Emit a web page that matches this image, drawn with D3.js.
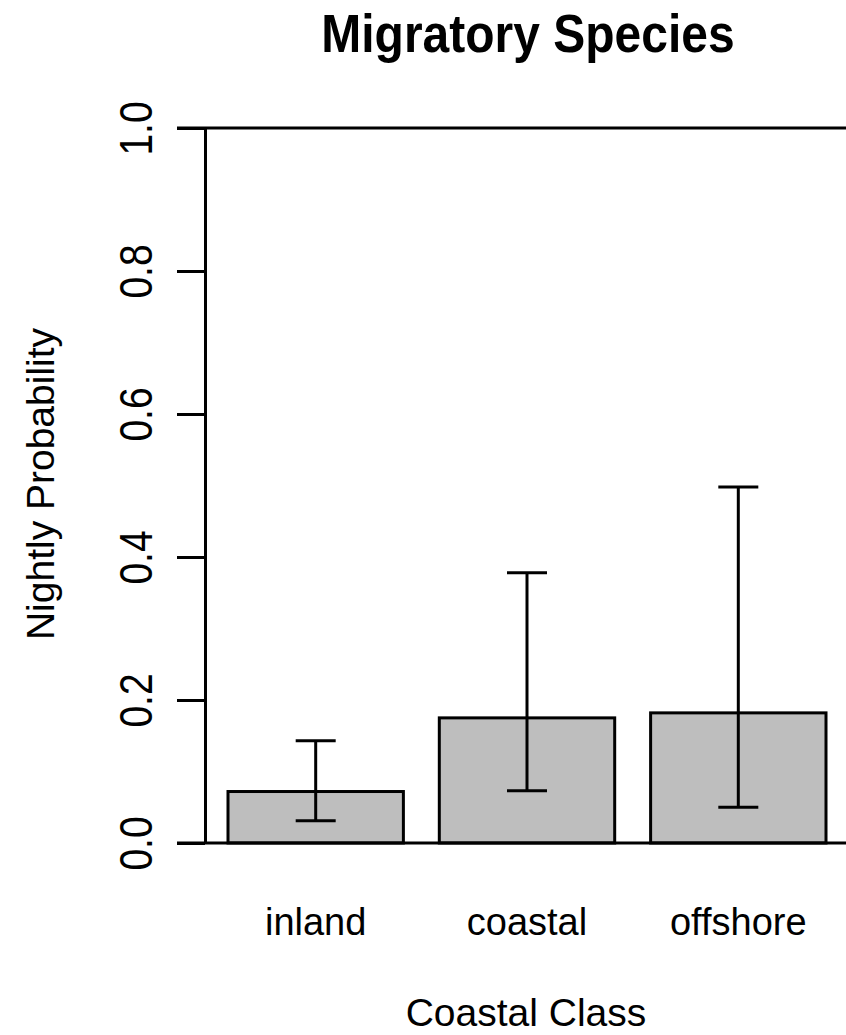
<!DOCTYPE html>
<html>
<head>
<meta charset="utf-8">
<script src="https://cdn.jsdelivr.net/npm/d3@7"></script>
<style>
  body { margin: 0; background: #fff; }
  text { font-family: "Liberation Sans", Arial, sans-serif; fill: #000; }
</style>
</head>
<body>
<div id="chart"></div>
<script>
// values
let categories = ["inland", "coastal", "offshore"];
let means = [0.072, 0.175, 0.182];
let lower = [0.031, 0.073, 0.050];
let upper = [0.143, 0.378, 0.498];
let yTicks = [0, 0.2, 0.4, 0.6, 0.8, 1.0];

let width = 846, height = 1035;
let fmt = d3.format(".1f");

let svg = d3.select("#chart")
    .append("svg")
    .attr("width", width)
    .attr("height", height);

let x = d3.scaleBand().domain(categories).range([228, 826]).paddingInner(0.17).paddingOuter(0);
let y = d3.scaleLinear().domain([0, 1]).range([843, 128]);
let axisX = 205, tickLen = 28;

// bars
svg.selectAll("rect.bar")
    .data(means)
    .enter().append("rect")
    .attr("class", "bar")
    .attr("x", (d, i) => x(categories[i]))
    .attr("width", x.bandwidth())
    .attr("y", d => y(d))
    .attr("height", d => y(0) - y(d))
    .attr("fill", "#bebebe")
    .attr("stroke", "black")
    .attr("stroke-width", 3);

// error bars
let capHalf = 20;
let eb = svg.selectAll("g.err")
    .data(categories)
    .enter().append("g")
    .attr("class", "err")
    .attr("stroke", "black")
    .attr("stroke-width", 3);
eb.append("line")
    .attr("x1", d => x(d) + x.bandwidth() / 2)
    .attr("x2", d => x(d) + x.bandwidth() / 2)
    .attr("y1", (d, i) => y(lower[i]))
    .attr("y2", (d, i) => y(upper[i]));
eb.append("line")
    .attr("x1", d => x(d) + x.bandwidth() / 2 - capHalf)
    .attr("x2", d => x(d) + x.bandwidth() / 2 + capHalf)
    .attr("y1", (d, i) => y(lower[i]))
    .attr("y2", (d, i) => y(lower[i]));
eb.append("line")
    .attr("x1", d => x(d) + x.bandwidth() / 2 - capHalf)
    .attr("x2", d => x(d) + x.bandwidth() / 2 + capHalf)
    .attr("y1", (d, i) => y(upper[i]))
    .attr("y2", (d, i) => y(upper[i]));

// y axis
let yAxis = svg.append("g")
    .attr("transform", `translate(${axisX},0)`)
    .call(d3.axisLeft(y).tickValues(yTicks).tickSizeInner(tickLen).tickSizeOuter(0).tickFormat(fmt));
yAxis.select(".domain").attr("stroke", "black").attr("stroke-width", 3);
yAxis.selectAll(".tick line").attr("stroke", "black").attr("stroke-width", 3);
yAxis.selectAll(".tick text")
    .attr("x", null).attr("dy", null)
    .attr("transform", `translate(${-53},0) rotate(-90) scale(1,1.2)`)
    .attr("text-anchor", "middle")
    .attr("font-size", 39)
    .attr("font-family", "Liberation Sans, Arial, sans-serif");

// full-width lines at 0 and 1
svg.selectAll("line.hl")
    .data([0, 1])
    .enter().append("line")
    .attr("class", "hl")
    .attr("x1", axisX - tickLen)
    .attr("x2", width)
    .attr("y1", d => y(d))
    .attr("y2", d => y(d))
    .attr("stroke", "black")
    .attr("stroke-width", 3);

// category labels
svg.selectAll("text.cat")
    .data(categories)
    .enter().append("text")
    .attr("class", "cat")
    .attr("x", d => x(d) + x.bandwidth() / 2)
    .attr("y", 935)
    .attr("text-anchor", "middle")
    .attr("font-size", 38)
    .text(d => d);

// titles
svg.append("text")
    .attr("transform", "translate(528,52) scale(1,1.12)")
    .attr("text-anchor", "middle")
    .attr("font-size", 48)
    .attr("font-weight", "bold")
    .text("Migratory Species");

svg.append("text")
    .attr("x", 526)
    .attr("y", 1026)
    .attr("text-anchor", "middle")
    .attr("font-size", 39)
    .text("Coastal Class");

svg.append("text")
    .attr("transform", "translate(54,484) rotate(-90)")
    .attr("text-anchor", "middle")
    .attr("font-size", 39)
    .text("Nightly Probability");
</script>
</body>
</html>
